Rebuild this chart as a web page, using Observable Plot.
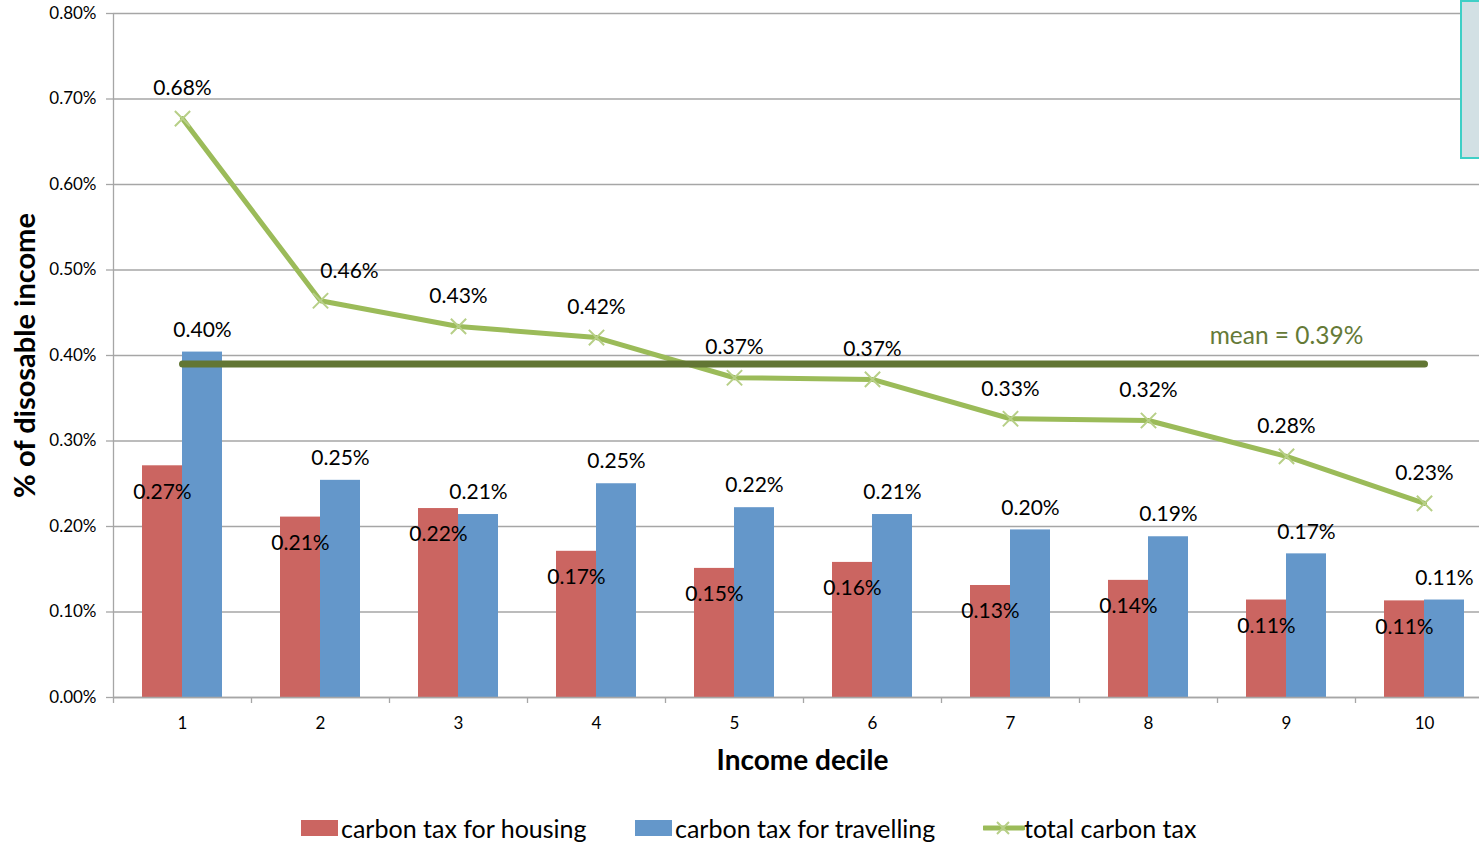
<!DOCTYPE html>
<html>
<head>
<meta charset="utf-8">
<script src="https://cdn.jsdelivr.net/npm/d3@7"></script>
<script src="https://cdn.jsdelivr.net/npm/@observablehq/plot@0.6"></script>
<style>
  html, body { margin: 0; padding: 0; background: #fff; overflow: hidden; }
  #wrap { position: relative; width: 1479px; height: 842px; overflow: hidden; font-family: Lato, "Open Sans", sans-serif; }
  #chart { position: absolute; left: 0; top: 0; }
  .leg { position: absolute; top: 813px; font-size: 25px; line-height: 30px; color: #000; white-space: nowrap; }
  .sw { position: absolute; }
  #box { position: absolute; left: 1460px; top: 0; width: 40px; height: 159px; background: #d2e0e4; border: 2px solid #3fcfc6; box-sizing: border-box; }
</style>
</head>
<body>
<div id="wrap">
  <div id="chart"></div>
  <div id="box"></div>
  <div id="legend"></div>
</div>
<script>
// ---- data ----
const deciles = [1, 2, 3, 4, 5, 6, 7, 8, 9, 10];
const housing = [0.271, 0.211, 0.221, 0.171, 0.151, 0.158, 0.131, 0.137, 0.114, 0.113];
const travelling = [0.404, 0.254, 0.214, 0.250, 0.222, 0.214, 0.196, 0.188, 0.168, 0.114];
const total = [0.677, 0.464, 0.434, 0.421, 0.374, 0.372, 0.326, 0.324, 0.282, 0.227];
const meanValue = 0.39;
const yTicks = [0, 0.1, 0.2, 0.3, 0.4, 0.5, 0.6, 0.7, 0.8];
const seriesNames = ["carbon tax for housing", "carbon tax for travelling", "total carbon tax"];
const colors = { housing: "#cb6561", travelling: "#6497ca", total: "#9bbb59", marker: "#b7cf87", mean: "#627634", grid: "#a6a6a6" };

const rows = deciles.map((d, i) => ({ decile: d, housing: housing[i], travelling: travelling[i], total: total[i] }));
const meanRows = [{ decile: deciles[0], v: meanValue }, { decile: deciles[deciles.length - 1], v: meanValue }];
const pct = v => v.toFixed(2) + "%";

const chart = Plot.plot({
  width: 1479,
  height: 800,
  marginLeft: 113,
  marginRight: 0,
  marginTop: 13,
  marginBottom: 103,
  style: { fontFamily: "Lato, 'Open Sans', sans-serif", color: "#000", background: "transparent" },
  x: { type: "band", domain: deciles, range: [113, 1493], paddingInner: 0.42, paddingOuter: 0.21, align: 0.5 },
  y: { domain: [0, 0.8] },
  marks: [
    Plot.gridY(yTicks, { stroke: colors.grid, strokeOpacity: 1, strokeWidth: 1.3 }),
    Plot.axisY(yTicks, { tickFormat: pct, tickSize: 7, tickPadding: 10, fontSize: 17, label: null, stroke: colors.grid, strokeWidth: 1.3 }),
    Plot.axisX({ tickSize: 0, tickPadding: 19, fontSize: 17, label: null }),
    Plot.barY(rows, { x: "decile", y: "housing", fill: colors.housing, insetRight: 40 }),
    Plot.barY(rows, { x: "decile", y: "travelling", fill: colors.travelling, insetLeft: 40 }),
    Plot.ruleY([0], { stroke: colors.grid, strokeWidth: 1.3 }),
    Plot.ruleX([deciles[0]], { dx: -69, y1: 0, y2: 0.8, stroke: colors.grid, strokeWidth: 1.3 }),
    Plot.ruleX(deciles, { x: d => d, dx: -69, y1: 0, y2: 0.007, dy: 6, stroke: colors.grid, strokeWidth: 1.3 }),
    Plot.line(rows, { x: "decile", y: "total", stroke: colors.total, strokeWidth: 5 }),
    Plot.dot(rows, { x: "decile", y: "total", symbol: "times", r: 7, stroke: colors.marker, strokeWidth: 2 }),
    Plot.line(meanRows, { x: "decile", y: "v", stroke: colors.mean, strokeWidth: 7, strokeLinecap: "round" }),
    Plot.text([meanValue], { x: () => deciles[8], y: d => d, text: d => "mean = " + pct(d), dy: -28, fontSize: 24.5, fill: "#657a37" }),
    Plot.text(rows.filter(d => d.decile !== 2), { x: "decile", y: "total", text: d => pct(d.total), dy: -30, fontSize: 21 }),
    Plot.text(rows.filter(d => d.decile === 2), { x: "decile", y: "total", text: d => pct(d.total), dx: 29, dy: -30, fontSize: 21 }),
    Plot.text(rows, { x: "decile", y: "travelling", text: d => pct(d.travelling), dx: 20, dy: -22, fontSize: 21 }),
    Plot.text(rows, { x: "decile", y: "housing", text: d => pct(d.housing), dx: -20, dy: 26, fontSize: 21 }),
    Plot.text(["% of disosable income"], { frameAnchor: "left", textAnchor: "middle", rotate: -90, dx: -88, fontSize: 29, fontWeight: "bold" }),
    Plot.text(["Income decile"], { frameAnchor: "bottom", dx: 6, dy: 72, fontSize: 28, fontWeight: "bold" })
  ]
});
document.getElementById("chart").appendChild(chart);

// ---- legend ----
const legend = document.getElementById("legend");
const legendItems = [
  { name: seriesNames[0], type: "rect", color: colors.housing, sx: 301, tx: 341 },
  { name: seriesNames[1], type: "rect", color: colors.travelling, sx: 635, tx: 675 },
  { name: seriesNames[2], type: "line", color: colors.total, sx: 983, tx: 1024 }
];
for (const it of legendItems) {
  const sw = document.createElementNS("http://www.w3.org/2000/svg", "svg");
  sw.setAttribute("width", 42); sw.setAttribute("height", 20);
  sw.setAttribute("class", "sw");
  sw.style.left = it.sx + "px"; sw.style.top = "819px";
  if (it.type === "rect") {
    sw.innerHTML = `<rect x="0" y="1" width="37" height="16" fill="${it.color}"/>`;
  } else {
    sw.innerHTML = `<line x1="1" y1="9" x2="40" y2="9" stroke="${it.color}" stroke-width="5" stroke-linecap="round"/>` +
      `<path d="M14,3L26,15M26,3L14,15" stroke="${colors.marker}" stroke-width="2"/>`;
  }
  legend.appendChild(sw);
  const t = document.createElement("div");
  t.className = "leg";
  t.style.left = it.tx + "px";
  t.textContent = it.name;
  legend.appendChild(t);
}
</script>
</body>
</html>
